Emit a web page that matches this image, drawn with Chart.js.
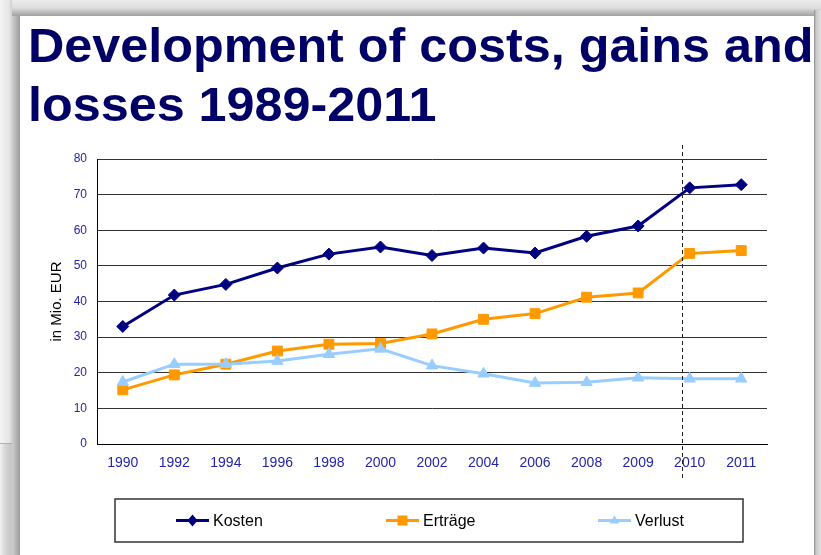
<!DOCTYPE html>
<html>
<head>
<meta charset="UTF-8">
<title>Development of costs, gains and losses 1989-2011</title>
<script src="https://cdn.jsdelivr.net/npm/chart.js"></script>
<style>
  html, body { margin: 0; padding: 0; }
  body {
    width: 821px; height: 555px; overflow: hidden; position: relative;
    background: linear-gradient(to right, #f4f4f4 0px, #e6e6e6 9px, #c2c2c2 14px, #9c9c9c 20px, #dcdcdc 21px);
    font-family: "Liberation Sans", Arial, sans-serif;
  }
  #topband {
    position: absolute; left: 12px; top: 0; width: 809px; height: 16px;
    background: linear-gradient(to bottom, #ececec 0px, #dedede 8px, #bdbdbd 12px, #a2a2a2 16px);
  }
  #lowleft {
    position: absolute; left: 0; top: 443px; width: 12px; height: 112px;
    border-top: 1px solid #b0b0b0;
    background: linear-gradient(to right, #f2f2f2 0px, #d6d6d6 5px, #c4c4c4 12px);
  }
  #rightband {
    position: absolute; left: 814px; top: 10px; width: 7px; height: 545px;
    background: linear-gradient(to right, #8c8c8c 0px, #c8c8c8 2px, #e2e2e2 7px);
  }
  #panel {
    position: absolute; left: 20px; top: 16px; width: 794px; height: 539px;
    background: #fff;
  }
  #title {
    position: absolute; left: 28px; top: 16px; z-index: 2;
    font-size: 48px; font-weight: bold; line-height: 59px;
    color: #000066; white-space: nowrap;
    transform: scaleX(1.048); transform-origin: 0 0;
  }
  #chart { position: absolute; left: 0; top: 0; z-index: 3; }
</style>
</head>
<body>
<div id="topband"></div>
<div id="lowleft"></div>
<div id="rightband"></div>
<div id="panel"></div>
<div id="title">Development of costs, gains and<br>losses 1989-2011</div>
<canvas id="chart" width="821" height="555"></canvas>

<script>
const years = ["1990", "1992", "1994", "1996", "1998", "2000", "2002", "2004", "2006", "2008", "2009", "2010", "2011"];
const kosten = [33.0, 41.8, 44.8, 49.4, 53.3, 55.3, 52.9, 55.0, 53.6, 58.3, 61.2, 71.9, 72.8];
const ertraege = [15.2, 19.4, 22.4, 26.1, 28.0, 28.2, 30.9, 35.0, 36.6, 41.2, 42.4, 53.5, 54.3];
const verlust = [17.4, 22.4, 22.4, 23.3, 25.2, 26.7, 22.0, 19.7, 17.1, 17.3, 18.6, 18.3, 18.3];
const yTicks = [0, 10, 20, 30, 40, 50, 60, 70, 80];
// dashed divider, as a position on the category axis (just left of 2010)
const dividerAt = 10.85;

const tickBlue = "#2424a8";
const font = "'Liberation Sans', Arial, sans-serif";

// dashed vertical divider
const dividerPlugin = {
  id: "divider",
  afterDatasetsDraw(chart) {
    const ctx = chart.ctx;
    const x = Math.round(chart.scales.x.getPixelForValue(dividerAt)) + 0.5;
    ctx.save();
    ctx.strokeStyle = "#222";
    ctx.lineWidth = 1;
    ctx.setLineDash([4, 3]);
    ctx.beginPath();
    ctx.moveTo(x, chart.chartArea.top - 14);
    ctx.lineTo(x, chart.chartArea.bottom + 36);
    ctx.stroke();
    ctx.restore();
  }
};

// boxed legend under the chart: line with marker, then label
const legendBox = { left: 115, top: 499, right: 743, bottom: 542 };
const legendX = [176, 386, 598];

function drawMarker(ctx, style, x, y, r) {
  ctx.beginPath();
  if (style === "rectRot") {
    ctx.moveTo(x, y - r); ctx.lineTo(x + r * 0.85, y); ctx.lineTo(x, y + r); ctx.lineTo(x - r * 0.85, y);
  } else if (style === "rect") {
    ctx.rect(x - r, y - r, 2 * r, 2 * r);
  } else {
    ctx.moveTo(x, y - r); ctx.lineTo(x + r * 0.95, y + r * 0.6); ctx.lineTo(x - r * 0.95, y + r * 0.6);
  }
  ctx.closePath();
  ctx.fill();
}

const boxLegendPlugin = {
  id: "boxLegend",
  afterDraw(chart) {
    const ctx = chart.ctx;
    const b = legendBox;
    const cy = (b.top + b.bottom) / 2;
    ctx.save();
    ctx.strokeStyle = "#333";
    ctx.lineWidth = 1.5;
    ctx.strokeRect(b.left, b.top, b.right - b.left, b.bottom - b.top);
    chart.data.datasets.forEach((ds, i) => {
      const x = legendX[i];
      ctx.strokeStyle = ds.borderColor;
      ctx.fillStyle = ds.borderColor;
      ctx.lineWidth = 3;
      ctx.setLineDash([]);
      ctx.beginPath();
      ctx.moveTo(x, cy);
      ctx.lineTo(x + 33, cy);
      ctx.stroke();
      drawMarker(ctx, ds.pointStyle, x + 16.5, cy, ds.pointStyle === "rectRot" ? 6 : 5);
      ctx.fillStyle = "#000";
      ctx.font = "16px " + font;
      ctx.textBaseline = "middle";
      ctx.textAlign = "left";
      ctx.fillText(ds.label, x + 37, cy + 1);
    });
    ctx.restore();
  }
};

new Chart(document.getElementById("chart"), {
  type: "line",
  data: {
    labels: years,
    datasets: [
      {
        label: "Kosten",
        data: kosten,
        borderColor: "#000080",
        backgroundColor: "#000080",
        pointStyle: "rectRot",
        pointRadius: 6,
        order: 1
      },
      {
        label: "Erträge",
        data: ertraege,
        borderColor: "#FF9900",
        backgroundColor: "#FF9900",
        pointStyle: "rect",
        pointRadius: 7,
        order: 2
      },
      {
        label: "Verlust",
        data: verlust,
        borderColor: "#99CCFF",
        backgroundColor: "#99CCFF",
        pointStyle: "triangle",
        pointRadius: 6.5,
        order: 0
      }
    ]
  },
  options: {
    responsive: false,
    animation: false,
    devicePixelRatio: 1,
    elements: {
      line: { borderWidth: 3, tension: 0 },
      point: { borderWidth: 1 }
    },
    layout: { padding: { left: 44, top: 159, right: 54, bottom: 81 } },
    plugins: {
      legend: { display: false },
      tooltip: { enabled: false }
    },
    scales: {
      x: {
        offset: true,
        grid: { display: false, drawTicks: false },
        border: { display: true, color: "#000", width: 1 },
        ticks: {
          color: tickBlue,
          font: { family: font, size: 14 },
          padding: 11,
          maxRotation: 0,
          autoSkip: false
        },
        afterFit(scale) { scale.height = 30; }
      },
      y: {
        min: 0,
        max: 80,
        grid: { color: "#333", lineWidth: 1, drawTicks: false },
        border: { display: true, color: "#000", width: 1 },
        afterBuildTicks(scale) { scale.ticks = yTicks.map(v => ({ value: v })); },
        ticks: {
          color: tickBlue,
          font: { family: font, size: 12 },
          padding: 10
        },
        title: {
          display: true,
          text: "in Mio. EUR",
          color: "#000",
          font: { family: font, size: 15 },
          padding: { top: 4, bottom: 0 }
        },
        afterFit(scale) { scale.width = 53; }
      }
    }
  },
  plugins: [dividerPlugin, boxLegendPlugin]
});
</script>
</body>
</html>
